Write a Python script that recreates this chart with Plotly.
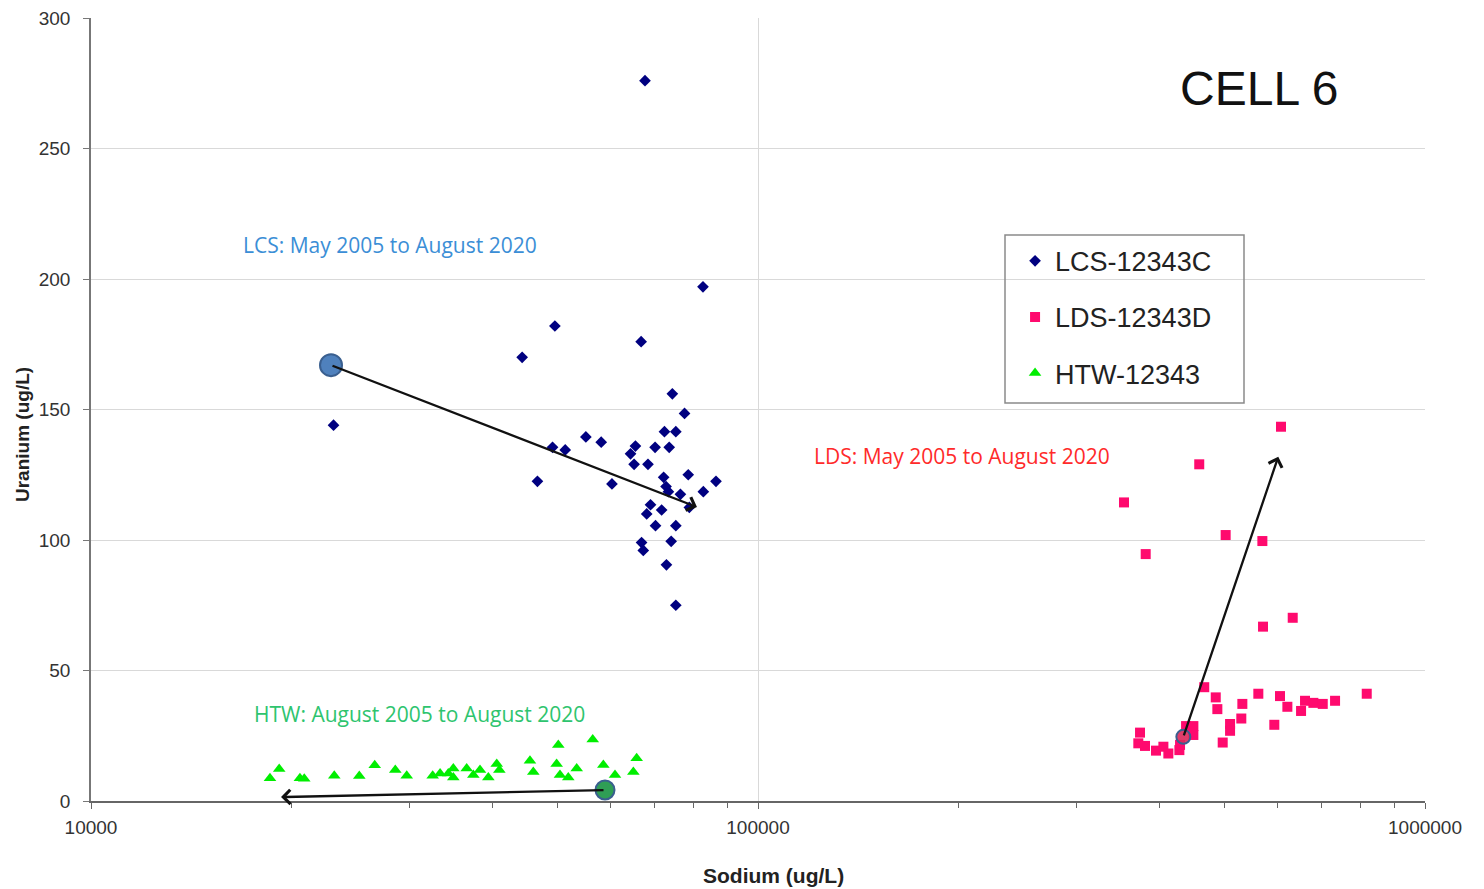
import math
import plotly.graph_objects as go

# ---------------- data ----------------
lcs_sodium = [67700, 82700, 49600, 66800, 44300, 23100, 74400, 77600, 72400, 75300,
              55200, 58200, 49200, 51400, 65500, 64400, 70100, 73600, 65200, 68400,
              46700, 60400, 72200, 78600, 86500, 72800, 73400, 82800, 76500, 78900,
              69000, 68100, 71700, 70200, 75300, 74100, 66900, 67300, 72900, 75300]
lcs_uranium = [276, 197, 182, 176, 170, 144, 156, 148.5, 141.5, 141.5,
               139.5, 137.5, 135.5, 134.5, 136, 133, 135.5, 135.5, 129, 129,
               122.5, 121.5, 124, 125, 122.5, 120.5, 118.5, 118.5, 117.5, 112.5,
               113.5, 110, 111.5, 105.5, 105.5, 99.5, 99, 96, 90.5, 75]

lds_sodium = [608300, 458700, 353800, 381300, 502500, 570400, 571700, 633400, 466700, 485600,
              488300, 562500, 532300, 606200, 621800, 651900, 660900, 680200, 702600, 733100,
              817800, 530400, 510200, 510200, 594400, 497400, 373900, 371700, 380400, 395100,
              405300, 412300, 428300, 429300, 438300, 449500, 449500]
lds_uranium = [143.4, 129, 114.4, 94.6, 101.9, 99.6, 66.8, 70.2, 43.6, 39.7,
               35.2, 41.1, 37.2, 40.2, 36.1, 34.5, 38.4, 37.6, 37.2, 38.4,
               41.1, 31.6, 29.5, 26.9, 29.2, 22.4, 26.2, 22.1, 21.1, 19.3,
               20.8, 18.2, 19.5, 21.5, 28.7, 28.7, 25.3]

htw_sodium = [18550, 19150, 20570, 20880, 23160, 25250, 26630, 28590, 29740, 32530,
              33370, 34330, 34930, 34930, 36580, 37430, 38300, 39420, 40580, 40950,
              45510, 46040, 50190, 49900, 50480, 51950, 53480, 56520, 58630, 61040,
              65780, 65030]
htw_uranium = [8.7, 12.3, 8.7, 8.5, 9.7, 9.6, 13.7, 11.9, 9.7, 9.7,
               10.5, 10.5, 12.5, 9.0, 12.5, 10, 11.9, 9, 14.2, 11.9,
               15.4, 11.1, 21.5, 14.2, 10, 9, 12.5, 23.6, 13.8, 10,
               16.4, 11.1]

# trend arrows: start (first sample) -> end (last sample)
trend_names = ["LCS", "LDS", "HTW"]
trend_start_sodium = [22900, 434200, 58970]
trend_start_uranium = [167, 24.6, 4.2]
trend_end_sodium = [81000, 602600, 19270]
trend_end_uranium = [112.6, 131.9, 1.5]

period_labels = ["LCS: May 2005 to August 2020",
                 "LDS: May 2005 to August 2020",
                 "HTW: August 2005 to August 2020"]

y_ticks = [0, 50, 100, 150, 200, 250, 300]
x_ticks = [10000, 100000, 1000000]
x_tick_labels = ["10000", "100000", "1000000"]

# ---------------- figure ----------------
fig = go.Figure()

fig.add_trace(go.Scatter(x=lcs_sodium, y=lcs_uranium, mode="markers", name="LCS-12343C",
                         legendgroup="a",
                         marker=dict(symbol="diamond", size=9, color="#000080")))
fig.add_trace(go.Scatter(x=lds_sodium, y=lds_uranium, mode="markers", name="LDS-12343D",
                         legendgroup="b",
                         marker=dict(symbol="square", size=10, color="#ff0a6e")))
fig.add_trace(go.Scatter(x=htw_sodium, y=htw_uranium, mode="markers", name="HTW-12343",
                         legendgroup="c",
                         marker=dict(symbol="triangle-up", size=11, color="#00ee00")))

# start-point circles
circle_fill = ["#4f81bd", "rgba(220,40,90,0.9)", "#2f9e55"]
circle_size = [22, 14, 19]
for i in range(3):
    fig.add_trace(go.Scatter(x=[trend_start_sodium[i]], y=[trend_start_uranium[i]],
                             mode="markers", showlegend=False,
                             marker=dict(symbol="circle", size=circle_size[i],
                                         color=circle_fill[i],
                                         line=dict(color="#3a5f8f", width=2))))

annotations = []
for i in range(3):
    annotations.append(dict(
        x=math.log10(trend_end_sodium[i]), y=trend_end_uranium[i], xref="x", yref="y",
        ax=math.log10(trend_start_sodium[i]), ay=trend_start_uranium[i], axref="x", ayref="y",
        text="", showarrow=True, arrowhead=4, arrowsize=1.2, arrowwidth=2.3,
        arrowcolor="#111111", standoff=0, startstandoff=0))

label_font = "Open Sans, Lato, sans-serif"
sans = "Liberation Sans, Arial, sans-serif"
common = dict(xref="paper", yref="paper", showarrow=False, xanchor="center", yanchor="middle")
annotations += [
    dict(x=(390 - 91) / 1334, y=(801 - 245) / 783, text=period_labels[0],
         font=dict(family=label_font, size=21, color="#3b8ed6"), **common),
    dict(x=(962 - 91) / 1334, y=(801 - 456) / 783, text=period_labels[1],
         font=dict(family=label_font, size=21, color="#ff2a2a"), **common),
    dict(x=(419 - 91) / 1334, y=(801 - 714) / 783, text=period_labels[2],
         font=dict(family=label_font, size=21, color="#2ec46e"), **common),
    dict(x=(1259 - 91) / 1334, y=(801 - 89) / 783, text="CELL 6",
         font=dict(family=sans, size=48, color="#111111"), **common),
    dict(x=(773 - 91) / 1334, y=(801 - 876) / 783, text="<b>Sodium (ug/L)</b>",
         font=dict(family=sans, size=21, color="#222222"), **common),
    dict(x=(22 - 91) / 1334, y=(801 - 435) / 783, text="<b>Uranium (ug/L)</b>", textangle=-90,
         font=dict(family=sans, size=19, color="#222222"), **common),
]

axis_font = dict(family=sans, size=19, color="#333333")

fig.update_layout(
    width=1484, height=889,
    margin=dict(l=91, r=59, t=18, b=88, autoexpand=False),
    paper_bgcolor="white", plot_bgcolor="white",
    showlegend=True,
    legend=dict(x=0.6927, y=0.7206, xanchor="left", yanchor="top",
                bgcolor="rgba(0,0,0,0)", borderwidth=0, tracegroupgap=18,
                font=dict(family=sans, size=27, color="#222222")),
    annotations=annotations,
    shapes=[dict(type="rect", xref="paper", yref="paper",
                 x0=(1005 - 91) / 1334, x1=(1244 - 91) / 1334,
                 y0=(801 - 403) / 783, y1=(801 - 235) / 783,
                 line=dict(color="#8a8a8a", width=1.5), fillcolor="rgba(0,0,0,0)")],
    xaxis=dict(type="log", range=[4, 6], tickmode="array", tickvals=x_ticks,
               ticktext=x_tick_labels, showgrid=True, gridcolor="#d9d9d9", gridwidth=1,
               showline=True, linecolor="#666666", linewidth=1.5,
               ticks="outside", ticklen=6, tickcolor="#666666", tickfont=axis_font,
               ticklabelstandoff=2, zeroline=False,
               minor=dict(ticks="outside", ticklen=5, tickcolor="#666666",
                          tickmode="array",
                          tickvals=[k * 10000 for k in range(2, 10)] + [k * 100000 for k in range(2, 10)],
                          showgrid=False)),
    yaxis=dict(range=[0, 300], tickmode="array", tickvals=y_ticks, showgrid=True,
               gridcolor="#d9d9d9", gridwidth=1, showline=True, linecolor="#777777",
               linewidth=1.5, ticks="outside", ticklen=6, tickcolor="#777777",
               tickfont=axis_font, ticklabelstandoff=9, zeroline=False),
)

fig.write_html("out.html")
